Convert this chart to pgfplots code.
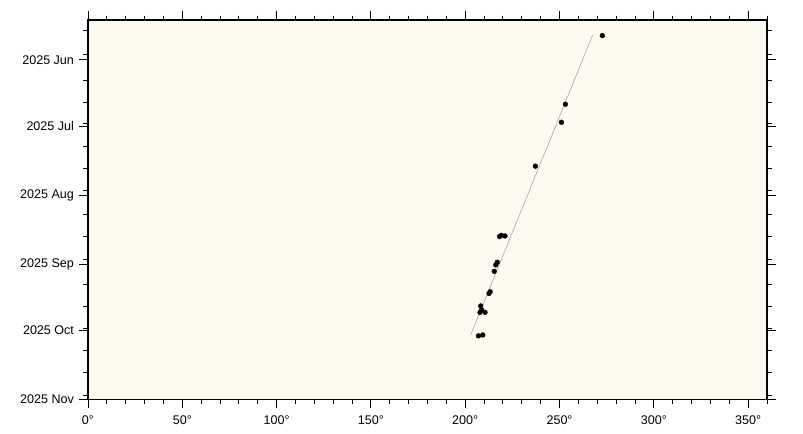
\documentclass[border=0pt]{standalone}
\usepackage{pgfplots}
\pgfplotsset{compat=1.18}
\usepackage{fontspec}
\setmainfont{Liberation Sans}
\definecolor{bg}{RGB}{255,250,240}
\definecolor{fitline}{RGB}{175,175,175}
\pgfplotstableread{
deg day
272.7 -10.96
253.1 19.97
251.0 28.1
237.2 47.9
218.2 79.6
219.2 79.1
221.1 79.35
217.0 91.2
216.2 92.4
215.4 95.3
213.2 104.5
212.6 105.3
208.2 110.9
208.7 112.7
207.8 113.8
210.5 113.8
209.3 124.0
207.0 124.4
}\obs
\begin{document}
\begin{tikzpicture}
\useasboundingbox (-88bp,-34.7bp) rectangle (715bp,399.3bp);
\begin{axis}[
  at={(0,0)}, anchor=south west,
  scale only axis, width=679bp, height=379.3bp,
  xmin=0, xmax=360, ymin=-18, ymax=153, y dir=reverse,
  axis background/.style={fill=bg},
  axis line style={line width=1.1bp, black},
  xtick={0,50,100,150,200,250,300,350},
  xticklabels={0°,50°,100°,150°,200°,250°,300°,350°},
  minor xtick={0,10,...,360},
  ytick={0,30,61,92,122,153},
  yticklabels={2025 Jun,2025 Jul,2025 Aug,2025 Sep,2025 Oct,2025 Nov},
  minor ytick={-13.07,-2.25,9.33,19.07,28.85,39.09,48.83,58.93,69.88,79.67,90.17,101.44,111.23,120.96,130.75,140.8,151.04},
  tick align=outside,
  major tick length=9bp, minor tick length=4.5bp,
  every tick/.style={black, line width=0.9bp},
  tick label style={font=\fontsize{12.6}{14}\selectfont, text=black},
  yticklabel style={xshift=-1.5bp},
  xticklabel style={yshift=-3.5bp},
]
\addplot[fitline, line width=0.7bp] coordinates {(202.9,124.0) (267.6,-11.3)};
\addplot[only marks, mark=*, mark size=2.4bp, black] table[x=deg, y=day] {\obs};
\end{axis}
\end{tikzpicture}
\end{document}
